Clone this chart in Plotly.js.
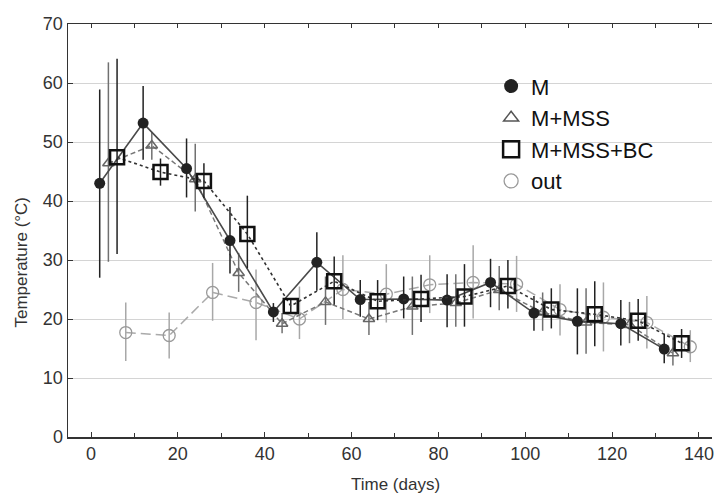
<!DOCTYPE html>
<html>
<head>
<meta charset="utf-8">
<script src="https://cdn.plot.ly/plotly-3.0.1.min.js"></script>
<style>html,body{margin:0;padding:0;background:#fff;}#chart{width:716px;height:495px;}</style>
</head>
<body>
<div id="chart"></div>
<script>
var M_t = [2,12,22,32,42,52,62,72,82,92,102,112,122,132];
var M_v = [43.0,53.2,45.5,33.3,21.2,29.6,23.3,23.4,23.2,26.2,21.0,19.6,19.2,14.9];
var M_hi = [58.9,59.5,50.6,39.0,22.7,34.7,26.6,27.2,27.6,30.2,23.9,25.2,23.2,17.5];
var M_lo = [27.0,47.0,40.6,27.7,19.5,24.8,20.4,20.1,18.6,22.0,18.0,14.0,15.5,12.5];

var MSS_t = [4,14,24,34,44,54,64,74,84,94,104,114,124,134];
var MSS_v = [46.4,49.4,43.7,27.8,19.2,22.9,20.0,22.1,22.7,24.9,21.1,19.4,19.0,14.2];
var MSS_hi = [63.5,51.7,49.7,31.2,21.0,27.2,22.9,27.2,27.6,29.0,24.5,25.2,22.9,16.9];
var MSS_lo = [29.7,47.0,38.2,24.6,17.6,19.0,17.3,17.3,18.7,21.5,18.0,14.1,15.9,12.1];

var BC_t = [6,16,26,36,46,56,66,76,86,96,106,116,126,136];
var BC_v = [47.4,44.9,43.4,34.4,22.2,26.4,23.0,23.4,23.8,25.6,21.6,20.8,19.7,15.9];
var BC_hi = [64.1,47.2,46.4,40.9,23.2,30.6,26.6,27.5,29.3,30.0,25.2,26.4,23.4,18.3];
var BC_lo = [31.0,42.6,40.5,28.6,21.0,22.4,19.8,19.5,18.7,21.8,18.4,15.4,16.3,13.4];

var OUT_t = [8,18,28,38,48,58,68,78,88,98,108,118,128,138];
var OUT_v = [17.7,17.2,24.5,22.8,20.0,25.0,24.2,25.8,26.2,25.9,21.6,20.3,19.4,15.3];
var OUT_hi = [22.8,21.1,29.5,28.4,25.5,30.8,29.3,30.8,32.5,30.7,25.9,26.2,23.9,18.1];
var OUT_lo = [12.9,13.3,19.7,16.4,16.6,20.0,19.4,21.0,20.1,21.2,17.2,14.5,15.0,12.7];

var xTickVals = [0,20,40,60,80,100,120,140];
var yTickVals = [0,10,20,30,40,50,60,70];

function err(v, hi, lo, color) {
  return {
    type: 'data', symmetric: false,
    array: v.map(function(d,i){return hi[i]-d;}),
    arrayminus: v.map(function(d,i){return d-lo[i];}),
    color: color, thickness: 1.5, width: 0
  };
}

var styles = {
  M:   {line: {color: '#4a4a4a', width: 1.6},
        marker: {symbol: 'circle', size: 11, color: '#222222'}, err: '#222222'},
  MSS: {line: {color: '#777777', width: 1.5, dash: '5px,3px'},
        marker: {symbol: 'triangle-up-open', size: 10, color: '#666666', line: {width: 1.5}}, err: '#707070'},
  BC:  {line: {color: '#333333', width: 1.6, dash: 'dot'},
        marker: {symbol: 'square-open', size: 14, color: '#111111', line: {width: 2.5}}, err: '#222222'},
  OUT: {line: {color: '#aaaaaa', width: 1.5, dash: '10px,5px'},
        marker: {symbol: 'circle-open', size: 12, color: '#999999', line: {width: 1.3}}, err: '#a8a8a8'}
};

var traces = [
  {x: OUT_t, y: OUT_v, name: 'out', mode: 'lines+markers', showlegend: false,
   line: styles.OUT.line, marker: styles.OUT.marker, error_y: err(OUT_v, OUT_hi, OUT_lo, styles.OUT.err)},
  {x: MSS_t, y: MSS_v, name: 'M+MSS', mode: 'lines+markers', showlegend: false,
   line: styles.MSS.line, marker: styles.MSS.marker, error_y: err(MSS_v, MSS_hi, MSS_lo, styles.MSS.err)},
  {x: M_t, y: M_v, name: 'M', mode: 'lines+markers', showlegend: false,
   line: styles.M.line, marker: styles.M.marker, error_y: err(M_v, M_hi, M_lo, styles.M.err)},
  {x: BC_t, y: BC_v, name: 'M+MSS+BC', mode: 'lines+markers', showlegend: false,
   line: styles.BC.line, marker: styles.BC.marker, error_y: err(BC_v, BC_hi, BC_lo, styles.BC.err)},
  // legend entries (marker only, as in the reference)
  {x: [null], y: [null], name: 'M', mode: 'markers', legendrank: 1,
   marker: {symbol: 'circle', size: 14, color: '#222222'}},
  {x: [null], y: [null], name: 'M+MSS', mode: 'markers', legendrank: 2,
   marker: {symbol: 'triangle-up-open', size: 13, color: '#555555', line: {width: 1.5}}},
  {x: [null], y: [null], name: 'M+MSS+BC', mode: 'markers', legendrank: 3,
   marker: {symbol: 'square-open', size: 16, color: '#111111', line: {width: 2.5}}},
  {x: [null], y: [null], name: 'out', mode: 'markers', legendrank: 4,
   marker: {symbol: 'circle-open', size: 14, color: '#999999', line: {width: 1.3}}},
  // top axis carrier
  {x: [null], y: [null], xaxis: 'x2', showlegend: false, mode: 'markers', hoverinfo: 'skip'}
];

var layout = {
  width: 716, height: 495,
  margin: {l: 68, r: 4, t: 24, b: 58},
  paper_bgcolor: '#ffffff', plot_bgcolor: '#ffffff',
  font: {family: 'Liberation Sans, Arial, sans-serif', color: '#333333'},
  showlegend: true,
  legend: {x: 0.657, y: 0.9, xanchor: 'left', yanchor: 'top',
           font: {size: 22, color: '#111111'}, bgcolor: 'rgba(0,0,0,0)',
           tracegroupgap: 0, itemwidth: 30, itemsizing: 'trace'},
  xaxis: {range: [-5.3, 143], tickvals: xTickVals, ticks: 'inside', ticklen: 5,
          tickcolor: '#333', showgrid: false, zeroline: false,
          showline: true, linecolor: '#333333', linewidth: 1.5,
          minor: {dtick: 10, ticks: 'inside', ticklen: 4, tickcolor: '#333', showgrid: false},
          tickfont: {size: 18, color: '#333'}},
  xaxis2: {overlaying: 'x', side: 'top', range: [-5.3, 143], dtick: 10, ticks: 'inside',
           ticklen: 4, tickcolor: '#333', showticklabels: false, showgrid: false,
           zeroline: false, showline: true, linecolor: '#333333', linewidth: 1.5},
  yaxis: {range: [0, 70], tickvals: yTickVals, ticks: 'inside', ticklen: 5,
          tickcolor: '#333', showgrid: true, gridcolor: '#d4d4d4', gridwidth: 1,
          zeroline: false, showline: true, linecolor: '#333333', linewidth: 1.5,
          tickfont: {size: 18, color: '#333'}},
  annotations: [
    {text: 'Time (days)', xref: 'paper', yref: 'paper', x: 0.509, y: -0.114,
     xanchor: 'center', yanchor: 'middle', showarrow: false, font: {size: 17, color: '#333'}},
    {text: 'Temperature (°C)', xref: 'paper', yref: 'paper', x: -0.072, y: 0.424,
     xanchor: 'center', yanchor: 'middle', showarrow: false, textangle: -90,
     font: {size: 17, color: '#333'}}
  ]
};

Plotly.newPlot('chart', traces, layout, {displayModeBar: false, staticPlot: true});
</script>
</body>
</html>
